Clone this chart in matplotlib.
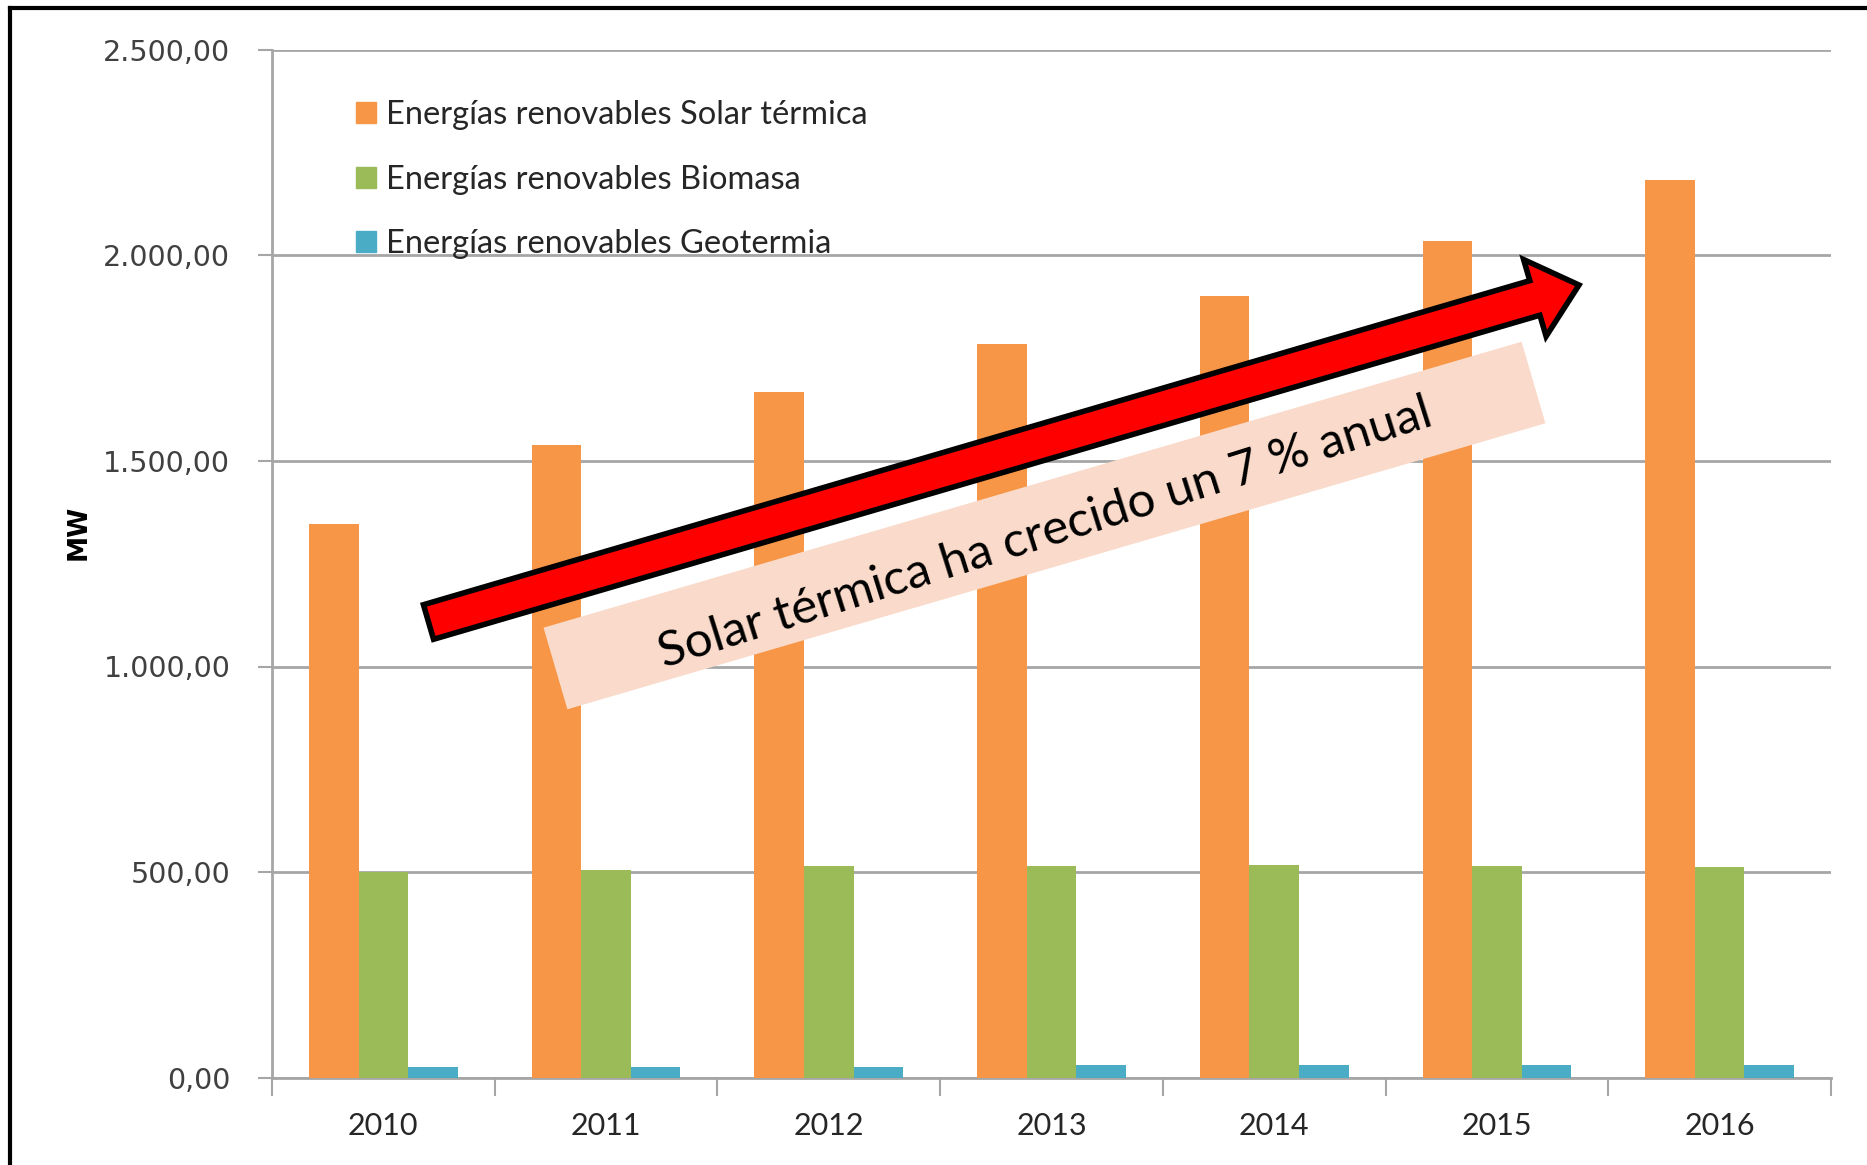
import numpy as np
import matplotlib
matplotlib.use("Agg")
import matplotlib.pyplot as plt
from matplotlib.patches import Polygon, Patch
from matplotlib.lines import Line2D

years = ["2010", "2011", "2012", "2013", "2014", "2015", "2016"]
solar = [1347, 1539, 1669, 1784, 1901, 2036, 2184]
biomasa = [500, 506, 514, 514, 518, 514, 513]
geotermia = [26, 26, 26, 30, 30, 30, 30]
series_names = ["Energías renovables Solar térmica",
                "Energías renovables Biomasa",
                "Energías renovables Geotermia"]
yticks = [0, 500, 1000, 1500, 2000, 2500]
ytick_labels = ["0,00", "500,00", "1.000,00", "1.500,00", "2.000,00", "2.500,00"]
note = "Solar térmica ha crecido un 7 % anual"

colors = ["#F79646", "#9BBB59", "#4BACC6"]
W, H = 1867, 1165

fig = plt.figure(figsize=(W / 100, H / 100), dpi=100)
ax = fig.add_axes([272 / W, 1 - 1077.5 / H, (1831 - 272) / W, (1077.5 - 50) / H])

x = np.arange(len(years))
bw = 0.2227
for i, vals in enumerate([solar, biomasa, geotermia]):
    ax.bar(x + (i - 1) * bw, vals, bw, color=colors[i], zorder=3)

ax.set_xlim(-0.5, len(years) - 0.5)
ax.set_ylim(0, 2500)
ax.set_yticks(yticks)
ax.set_yticklabels(ytick_labels, fontsize=20.5, family="DejaVu Sans", color="#404040")
ax.yaxis.grid(True, color="#a6a6a6", linewidth=2, zorder=0)
ax.tick_params(axis="y", length=10, width=1.5, color="#a6a6a6", pad=20)

ax.set_xticks(np.arange(-0.5, len(years), 1.0))
ax.set_xticklabels([])
ax.set_xticks(x, minor=True)
ax.set_xticklabels(years, minor=True, fontsize=22, family="Lato", color="#262626")
ax.tick_params(axis="x", which="major", length=13, width=1.5, color="#a6a6a6")
ax.tick_params(axis="x", which="minor", length=0, pad=25)

for s in ["top", "right"]:
    ax.spines[s].set_visible(False)
for s in ["left", "bottom"]:
    ax.spines[s].set_color("#a6a6a6")
    ax.spines[s].set_linewidth(2)

fig.text(79 / W, 1 - 532 / H, "MW", rotation=90, fontsize=19, fontweight="bold",
         ha="center", va="center", family="DejaVu Sans")

handles = [Patch(color=c) for c in colors]
ax.legend(handles, series_names, loc="upper left", bbox_to_anchor=(356 / W, 1 - 100 / H),
          bbox_transform=fig.transFigure, frameon=False,
          prop={"family": "Lato", "size": 23.5}, handlelength=0.62, handleheight=0.62,
          handletextpad=0.3, labelspacing=1.06, borderpad=0, borderaxespad=0,
          labelcolor="#262626")


def to_fig(pts):
    pts = np.asarray(pts, dtype=float)
    return np.column_stack([pts[:, 0] / W, 1 - pts[:, 1] / H])


# text box (rotated rectangle), pixel space
ang = np.deg2rad(16.3)
u = np.array([np.cos(ang), -np.sin(ang)])
n = np.array([np.sin(ang), np.cos(ang)])
c = np.array([1044.5, 525.5])
L, Wb = 1019, 85
box = [c - u * L / 2 - n * Wb / 2, c + u * L / 2 - n * Wb / 2,
       c + u * L / 2 + n * Wb / 2, c - u * L / 2 + n * Wb / 2]
fig.patches.append(Polygon(to_fig(box), closed=True, transform=fig.transFigure,
                           facecolor="#FADBCB", edgecolor="none", zorder=5))
fig.text(1045 / W, 1 - 533 / H, note, rotation=17.5, rotation_mode="anchor",
         ha="center", va="center", fontsize=35.5, family="Lato", zorder=6)

# big red arrow, pixel space
tail = np.array([428.5, 622.0])
tip = np.array([1579.0, 285.0])
d = (tip - tail) / np.linalg.norm(tip - tail)
p = np.array([-d[1], d[0]])
sw, hw, hl = 36, 80, 46
base = tip - d * hl
arrow = [tail + p * sw / 2, base + p * sw / 2, base + p * hw / 2, tip,
         base - p * hw / 2, base - p * sw / 2, tail - p * sw / 2]
fig.patches.append(Polygon(to_fig(arrow), closed=True, transform=fig.transFigure,
                           facecolor="#FF0000", edgecolor="black", linewidth=4,
                           joinstyle="miter", zorder=7))

# slide frame
fig.add_artist(Line2D([10 / W, 1], [1 - 8 / H, 1 - 8 / H], color="black", linewidth=3,
                      transform=fig.transFigure))
fig.add_artist(Line2D([10 / W, 10 / W], [0, 1 - 8 / H], color="black", linewidth=3,
                      transform=fig.transFigure))

fig.savefig("out.png", dpi=100)
